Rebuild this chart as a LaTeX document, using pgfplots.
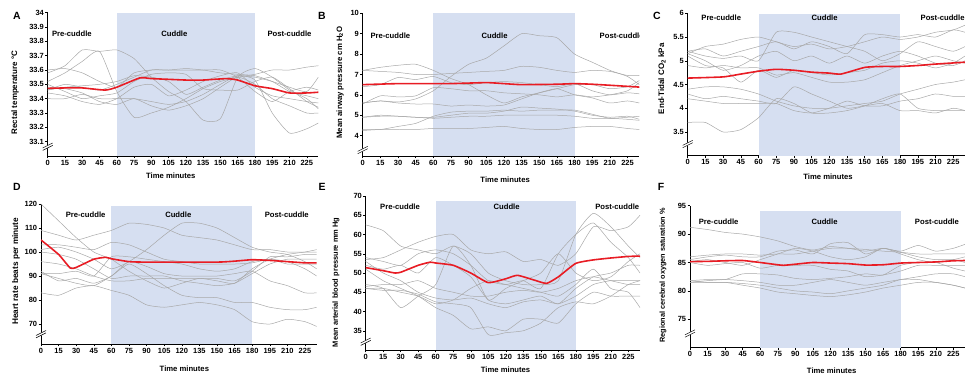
\documentclass[border=0pt]{standalone}
\usepackage{fontspec}
\setmainfont{Liberation Sans}
\usepackage{pgfplots}
\usepackage{pgfplotstable}
\pgfplotsset{compat=1.18}

\definecolor{shade}{RGB}{214,223,241}
\definecolor{gline}{RGB}{168,168,168}
\definecolor{mline}{RGB}{232,28,36}

\pgfplotstableread{
t g1 g2 g3 g4 g5 g6 g7 g8 g9
0 33.58 33.52 33.60 33.40 33.48 33.46 33.50 33.44 33.46
15 33.63 33.58 33.61 33.40 33.47 33.48 33.45 33.42 33.50
30 33.74 33.66 33.58 33.43 33.44 33.49 33.40 33.38 33.48
45 33.73 33.73 33.52 33.40 33.38 33.50 33.42 33.36 33.46
60 33.74 33.45 33.48 33.40 33.36 33.52 33.44 33.40 33.50
75 33.68 33.27 33.58 33.40 33.40 33.56 33.52 33.48 33.55
90 33.55 33.30 33.60 33.38 33.35 33.55 33.57 33.50 33.60
105 33.45 33.34 33.60 33.36 33.32 33.52 33.58 33.42 33.60
120 33.38 33.40 33.61 33.38 33.35 33.43 33.57 33.46 33.60
135 33.25 33.47 33.60 33.43 33.40 33.48 33.47 33.52 33.60
150 33.26 33.52 33.58 33.50 33.48 33.53 33.46 33.56 33.60
165 33.55 33.55 33.57 33.56 33.55 33.56 33.46 33.58 33.55
180 33.61 33.57 33.56 33.53 33.50 33.55 33.52 33.48 33.45
195 33.55 33.60 33.52 33.30 33.40 33.52 33.55 33.42 33.38
210 33.46 33.60 33.45 33.16 33.35 33.48 33.47 33.40 33.45
225 33.40 33.62 33.42 33.19 33.30 33.45 33.38 33.38 33.48
235 33.33 33.63 33.40 33.23 33.30 33.55 33.34 33.37 33.46
}\dataA

\pgfplotstableread{
t g1 g2 g3 g4 g5 g6 g7 g8 g9 g10
0 5.6 7.2 7.2 6.4 5.55 5.6 4.9 4.9 4.3 4.25
15 5.7 7.35 7.15 6.5 5.95 5.7 5.0 4.95 4.3 4.3
30 5.65 7.45 7.1 6.85 5.9 5.6 4.95 4.95 4.45 4.3
45 5.8 7.5 7.0 6.75 5.95 5.55 4.9 4.9 4.6 4.3
60 6.2 7.2 7.0 6.9 6.35 5.55 4.9 4.85 4.95 4.35
75 6.9 6.8 7.05 6.6 6.3 5.45 5.0 4.9 5.15 4.35
90 7.5 6.5 7.1 6.5 6.2 5.5 5.1 4.95 5.2 4.35
105 7.8 6.0 7.15 6.6 6.2 5.45 5.1 4.95 5.2 4.4
120 8.4 5.6 7.2 6.65 6.1 5.5 5.2 5.0 5.25 4.45
135 9.0 5.9 7.4 6.6 6.05 5.8 5.4 5.0 5.2 4.35
150 8.9 6.1 7.35 6.5 6.0 6.1 5.35 5.0 5.25 4.3
165 8.8 6.3 7.2 6.4 5.9 6.3 5.3 5.0 5.25 4.3
180 8.0 6.5 7.1 6.55 6.0 6.0 5.2 4.95 5.25 4.4
195 7.6 6.5 7.2 6.2 5.9 5.85 5.0 4.85 5.05 4.45
210 7.2 6.3 7.15 6.0 6.0 5.6 4.9 4.85 4.85 4.45
225 6.9 6.4 6.95 6.1 6.2 5.7 4.95 4.8 4.9 4.35
235 6.5 6.7 6.95 6.05 6.6 5.6 4.8 4.75 4.95 4.3
}\dataB

\pgfplotstableread{
t g1 g2 g3 g4 g5 g6 g7 g8 g9 g10
0 5.15 5.2 5.2 5.15 5.1 4.9 4.4 4.3 4.2 3.7
15 5.3 5.25 5.1 5.0 4.9 4.85 4.45 4.2 4.15 3.7
30 5.35 5.1 5.05 4.8 4.85 4.9 4.45 4.25 4.1 3.5
45 5.45 5.2 5.1 4.9 4.55 4.85 4.4 4.2 4.1 3.55
60 5.5 5.3 5.0 5.1 4.8 4.85 4.3 4.15 4.1 3.8
75 5.4 5.4 5.6 5.2 4.65 4.7 4.15 4.1 4.1 4.2
90 5.3 5.25 5.6 5.0 4.8 4.75 4.05 4.45 3.95 4.1
105 5.35 5.4 5.5 5.1 4.75 4.65 4.0 4.3 3.9 3.9
120 5.25 5.3 5.4 4.95 4.7 4.55 4.0 4.15 4.0 3.9
135 5.3 5.15 5.3 5.1 4.75 4.55 4.05 4.0 4.15 3.95
150 5.4 5.55 5.2 4.95 4.8 4.6 4.1 4.05 4.05 4.05
165 5.5 5.55 5.0 5.1 4.95 4.75 4.15 4.1 4.05 4.2
180 5.45 5.5 5.15 5.2 5.0 4.9 4.3 3.95 4.15 4.3
195 5.5 5.55 5.4 5.1 4.95 5.0 4.4 3.95 4.2 4.0
210 5.6 5.5 5.3 4.95 4.85 5.1 4.5 3.9 4.3 3.95
225 5.65 5.65 5.2 4.9 4.95 5.0 4.55 4.0 4.25 3.95
235 5.75 5.6 5.3 5.0 5.1 4.95 4.6 3.95 4.25 3.95
}\dataC

\pgfplotstableread{
t g1 g2 g3 g4 g5 g6 g7 g8 g9 g10
0 120 109 103 101 100 96 91 91 83 92
15 113 107 103 102 99 95 91 89 82 88
30 106 105 102 100 97 93 92 87 85 89
45 100 107 101 97 93 90 90 86 86 87
60 97 109 104 93 89 88 98 90 84 90
75 92 112 103 96 90 88 98 95 82 96
90 88 111.5 100 101 90 89 97 91 78 94
105 85 110 97 107 90 89 96 86 77 91
120 87 107 96 112 88 89 95 82 78 90
135 89 106 95 112 87 89 93 81 79 90
150 88 105 95 110 86 89 92 81 78 90
165 87 103 95 106 87 88 93 79 76 91
180 93 101 95.5 102 91 92 96 79 71 92
195 97 101 97 100 95 98 97 77 70 88
210 99 100 96 99 97 98 95 76 72 86
225 100 100 93 96 97 99 95 76 71 83
235 101 100 90 93 97 99 95 77 69 83
}\dataD

\pgfplotstableread{
t g1 g2 g3 g4 g5 g6 g7 g8 g9 g10
0 62.5 53.5 54 47 52 46 46.5 53 51 46
15 61 54 53 46 51 46 47 50 48 45.5
30 57 56 52 41 52 45 47 48 46 45.5
45 56 58 55 44 50 44 48 45 44 44.5
60 55 59.5 56 47 54 42 46 43.5 41 42.5
75 57 60 55 57 52 43 45 43 39 42
90 55 56 52 52 49 46 44 43.5 35.5 41
105 50 55 48 43 43 48 44 42 36 34
120 48 55.5 47 46 42 47 45 41 35 34.5
135 47 53 48 48 43 46 45.5 42.5 38 35
150 47 53.5 46 50 44 45 45 43 38 37
165 48 52 55 55 42 44 46 42 37 41
180 60 55 60 50 46 47 48 44 42 42.5
195 65.5 62 63 48 49 51 49 47 45 42
210 62 61 58 49 50 46 48 48 44 44
225 57 62 54 53 52 45 47 48 44 47
235 54 65 50 55 52 41 47 48 44 48
}\dataE

\pgfplotstableread{
t g1 g2 g3 g4 g5 g6 g7 g8 g9
0 91.2 86.0 85.5 85.2 85.0 81.8 81.5 81.5 81.8
15 90.8 86.3 86.0 85.5 84.5 82.0 81.8 81.5 81.5
30 90.3 86.5 86.3 85.0 84.8 82.0 82.0 81.5 81.5
45 90.0 86.5 86.0 84.5 85.0 83.0 81.8 81.3 81.0
60 89.5 86.3 86.0 85.5 84.0 83.0 81.5 81.0 80.5
75 88.8 86.5 87.0 86.5 84.5 82.8 81.0 80.5 79.8
90 87.8 86.5 87.2 87.5 84.5 82.2 81.0 80.0 79.5
105 87.2 87.0 86.5 87.0 84.5 82.0 81.5 79.8 79.2
120 87.8 87.5 88.3 86.0 83.8 82.2 82.0 79.5 79.0
135 87.5 87.5 88.5 85.5 83.5 82.5 81.5 80.0 79.3
150 87.3 87.0 86.5 86.0 82.5 83.0 81.0 80.5 79.8
165 87.0 87.5 87.5 87.5 82.8 82.8 81.5 81.0 80.5
180 86.8 87.0 86.8 86.5 83.5 84.5 82.0 82.0 81.0
195 86.5 88.0 86.0 85.5 84.5 85.0 82.5 82.0 81.5
210 86.5 87.0 85.5 85.0 84.5 85.0 83.0 81.5 81.5
225 86.5 87.5 85.5 85.5 84.5 84.0 83.0 81.0 81.0
235 86.5 88.2 85.0 86.0 84.5 83.5 82.5 80.5 80.5
}\dataF

\tikzset{
  phase/.style={font=\bfseries\fontsize{7.7}{8}\selectfont, anchor=center},
  gl/.style={gline, line width=0.5pt, smooth, tension=0.35},
  ml/.style={mline, line width=1.6pt, smooth, tension=0.3},
}

\pgfplotsset{
  brkpos/.initial=0.06,
  panel/.style={
    scale only axis,
    anchor=south west,
    axis x line*=bottom, axis y line*=left,
    xmin=0, xmax=235,
    xtick={0,15,...,225},
    tick align=outside,
    major tick length=2.5pt,
    tick style={black, line width=0.5pt},
    axis line style={black, line width=0.6pt},
    no markers,
    /pgf/number format/assume math mode=true,
    ticklabel style={font=\bfseries\fontsize{7.5}{8}\selectfont, inner sep=1.2pt},
    xlabel={Time minutes},
    xlabel style={font=\bfseries\fontsize{7.7}{8}\selectfont, anchor=center},
    ylabel style={anchor=center},
    after end axis/.code={
      \pgfmathsetmacro\bk{\pgfkeysvalueof{/pgfplots/brkpos}}
      \draw[white, line width=2.6pt] ([xshift=-5bp,yshift=-2.5bp]rel axis cs:0,\bk) -- ([xshift=5bp,yshift=2.5bp]rel axis cs:0,\bk);
      \draw[black, line width=0.5pt] ([xshift=-5bp,yshift=-1.3bp]rel axis cs:0,\bk) -- ([xshift=5bp,yshift=3.7bp]rel axis cs:0,\bk);
      \draw[black, line width=0.5pt] ([xshift=-5bp,yshift=-3.7bp]rel axis cs:0,\bk) -- ([xshift=5bp,yshift=1.3bp]rel axis cs:0,\bk);
    },
  },
}

\begin{document}
\begin{tikzpicture}
\useasboundingbox (0,0) rectangle (965bp,375bp);

% ---------- A ----------
\begin{axis}[panel, at={(47.7bp,219bp)}, width=270.6bp, height=143.3bp,
  ymin=33, ymax=34, ytick={33.1,33.2,33.3,33.4,33.5,33.6,33.7,33.8,33.9,34},
  brkpos=0.065,
  ylabel={Rectal temperature °C},
  ylabel style={font=\bfseries\fontsize{8}{9}\selectfont, at={([xshift=-32.7bp]axis description cs:0,0.443)}},
  xlabel style={at={([yshift=-20bp]axis description cs:0.455,0)}}]
\addplot[draw=none, fill=shade] coordinates {(60,33) (60,34) (180,34) (180,33)} -- cycle;
\pgfplotsinvokeforeach{1,...,9}{\addplot[gl] table[x=t,y=g#1]{\dataA};}
\addplot[ml] coordinates {(0,33.472)(15,33.475)(30,33.475)(50,33.46)(60,33.48)(80,33.545)(90,33.54)(105,33.535)(120,33.53)(135,33.53)(155,33.54)(165,33.53)(180,33.49)(195,33.47)(210,33.44)(225,33.44)(235,33.445)};
\node[phase] at (axis cs:21,33.856) {Pre-cuddle};
\node[phase] at (axis cs:110,33.856) {Cuddle};
\node[phase] at (axis cs:210,33.856) {Post-cuddle};
\end{axis}

% ---------- B ----------
\begin{axis}[panel, at={(362.7bp,219bp)}, width=276.6bp, height=142.7bp,
  ymin=3, ymax=10, ytick={4,5,6,7,8,9,10},
  brkpos=0.042,
  ylabel={Mean airway pressure cm H\textsubscript{2}O},
  ylabel style={font=\bfseries\fontsize{7.8}{9}\selectfont, at={([xshift=-22.7bp]axis description cs:0,0.515)}},
  xlabel style={at={([yshift=-24bp]axis description cs:0.515,0)}}]
\addplot[draw=none, fill=shade] coordinates {(60,3) (60,10) (180,10) (180,3)} -- cycle;
\pgfplotsinvokeforeach{1,...,10}{\addplot[gl] table[x=t,y=g#1]{\dataB};}
\addplot[ml] coordinates {(0,6.5)(30,6.55)(60,6.55)(75,6.55)(105,6.6)(120,6.55)(135,6.5)(165,6.52)(180,6.55)(195,6.52)(210,6.47)(235,6.38)};
\node[phase] at (axis cs:23.5,8.88) {Pre-cuddle};
\node[phase] at (axis cs:112,8.88) {Cuddle};
\node[phase] at (axis cs:220,8.88) {Post-cuddle};
\end{axis}

% ---------- C ----------
\begin{axis}[panel, at={(687.7bp,219.3bp)}, width=277.3bp, height=142.4bp,
  ymin=3, ymax=6, ytick={3.5,4,4.5,5,5.5,6},
  brkpos=0.082,
  ylabel={End-Tidal CO\textsubscript{2} kPa},
  ylabel style={font=\bfseries\fontsize{8}{9}\selectfont, at={([xshift=-25.7bp]axis description cs:0,0.54)}},
  xlabel style={at={([yshift=-21bp]axis description cs:0.506,0)}}]
\addplot[draw=none, fill=shade] coordinates {(60,3) (60,5.98) (180,5.98) (180,3)} -- cycle;
\pgfplotsinvokeforeach{1,...,10}{\addplot[gl] table[x=t,y=g#1]{\dataC};}
\addplot[ml] coordinates {(0,4.635)(30,4.66)(45,4.72)(60,4.78)(75,4.82)(90,4.80)(105,4.76)(120,4.74)(130,4.72)(150,4.86)(165,4.88)(180,4.88)(195,4.9)(210,4.93)(235,4.97)};
\node[phase] at (axis cs:28.4,5.91) {Pre-cuddle};
\node[phase] at (axis cs:116,5.91) {Cuddle};
\node[phase] at (axis cs:216,5.91) {Post-cuddle};
\end{axis}

% ---------- D ----------
\begin{axis}[panel, at={(41bp,31bp)}, width=275.7bp, height=140bp,
  ymin=61.7, ymax=120, ytick={70,80,90,100,110,120},
  brkpos=0.07,
  ylabel={Heart rate beats per minute},
  ylabel style={font=\bfseries\fontsize{8.3}{9}\selectfont, at={([xshift=-25bp]axis description cs:0,0.52)}},
  xlabel style={at={([yshift=-25bp]axis description cs:0.52,0)}}]
\addplot[draw=none, fill=shade] coordinates {(60,61.7) (60,119) (180,119) (180,61.7)} -- cycle;
\pgfplotsinvokeforeach{1,...,10}{\addplot[gl] table[x=t,y=g#1]{\dataD};}
\addplot[ml] coordinates {(0,105)(15,99)(25,93.3)(30,93.6)(45,97)(55,97.8)(60,97.2)(75,96)(90,95.8)(150,95.8)(165,96.2)(180,96.8)(195,96.5)(210,96)(225,95.5)(235,95.5)};
\node[phase] at (axis cs:38,115.5) {Pre-cuddle};
\node[phase] at (axis cs:117,115.5) {Cuddle};
\node[phase] at (axis cs:209.5,115.5) {Post-cuddle};
\end{axis}

% ---------- E ----------
\begin{axis}[panel, at={(365.7bp,25bp)}, width=274.3bp, height=154bp,
  ymin=30, ymax=70, ytick={35,40,45,50,55,60,65,70},
  brkpos=0.054,
  ylabel={Mean arterial blood pressure mm Hg},
  ylabel style={font=\bfseries\fontsize{7.5}{9}\selectfont, at={([xshift=-29.7bp]axis description cs:0,0.44)}},
  xlabel style={at={([yshift=-20bp]axis description cs:0.51,0)}}]
\addplot[draw=none, fill=shade] coordinates {(60,30) (60,68.7) (180,68.7) (180,30)} -- cycle;
\pgfplotsinvokeforeach{1,...,10}{\addplot[gl] table[x=t,y=g#1]{\dataE};}
\addplot[ml] coordinates {(0,51.4)(15,50.6)(25,50)(30,50.2)(45,52)(55,52.8)(60,52.6)(75,52)(90,50)(105,47.5)(120,48.5)(130,49.4)(145,48.1)(155,47.3)(165,49)(180,52.5)(195,53.4)(210,53.9)(225,54.3)(235,54.4)};
\node[phase] at (axis cs:29.4,67.2) {Pre-cuddle};
\node[phase] at (axis cs:120.7,67.2) {Cuddle};
\node[phase] at (axis cs:215.5,67.2) {Post-cuddle};
\end{axis}

% ---------- F ----------
\begin{axis}[panel, at={(690bp,27.3bp)}, width=275bp, height=142bp,
  ymin=70, ymax=95, ytick={75,80,85,90,95},
  brkpos=0.1,
  ylabel={Regional cerebral oxygen saturation \%},
  ylabel style={font=\bfseries\fontsize{7.3}{9}\selectfont, at={([xshift=-27bp]axis description cs:0,0.51)}},
  xlabel style={at={([yshift=-23bp]axis description cs:0.515,0)}}]
\addplot[draw=none, fill=shade] coordinates {(60,70) (60,94) (180,94) (180,70)} -- cycle;
\pgfplotsinvokeforeach{1,...,9}{\addplot[gl] table[x=t,y=g#1]{\dataF};}
\addplot[ml] coordinates {(0,85.15)(15,85.2)(30,85.3)(45,85.35)(60,85.0)(75,84.6)(80,84.5)(90,84.7)(105,85.0)(120,84.9)(135,84.8)(150,84.55)(165,84.6)(180,84.9)(195,85.0)(210,85.1)(225,85.3)(235,85.35)};
\node[phase] at (axis cs:24.5,92.25) {Pre-cuddle};
\node[phase] at (axis cs:115,92.25) {Cuddle};
\node[phase] at (axis cs:211,92.25) {Post-cuddle};
\end{axis}

% panel letters
\node[font=\bfseries\fontsize{10.5}{12}\selectfont] at (17bp,359bp) {A};
\node[font=\bfseries\fontsize{10.5}{12}\selectfont] at (322bp,359bp) {B};
\node[font=\bfseries\fontsize{10.5}{12}\selectfont] at (657bp,359bp) {C};
\node[font=\bfseries\fontsize{10.5}{12}\selectfont] at (17bp,188bp) {D};
\node[font=\bfseries\fontsize{10.5}{12}\selectfont] at (322bp,188bp) {E};
\node[font=\bfseries\fontsize{10.5}{12}\selectfont] at (661bp,188bp) {F};
\end{tikzpicture}
\end{document}
